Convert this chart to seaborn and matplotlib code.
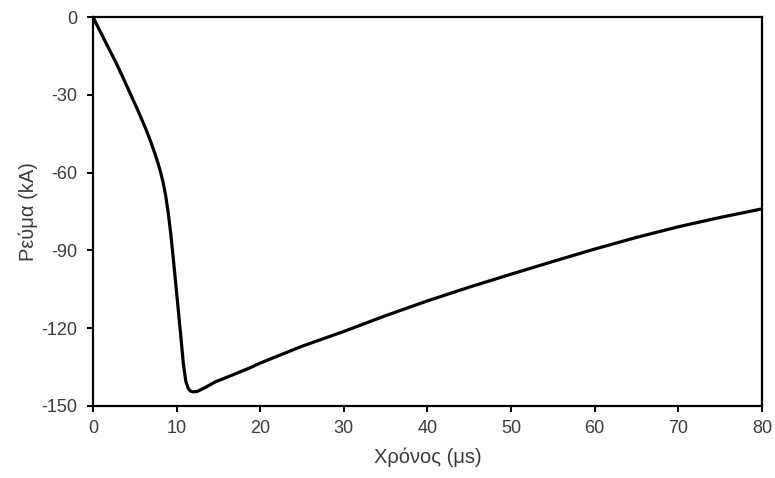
import matplotlib
matplotlib.use("Agg")
import matplotlib.pyplot as plt
import seaborn as sns
import pandas as pd

# Lightning current waveform: time in microseconds, current in kA
time_us = [0, 1.0, 2.0, 2.7, 3.6, 4.5, 5.4, 6.3, 6.9, 7.4, 7.8, 8.1, 8.4,
           8.7, 9.0, 9.3, 9.6, 9.9, 10.2, 10.5, 10.8, 11.1, 11.4, 11.7,
           12.0, 12.5, 13.5, 14.6, 16.0, 18.8, 20, 25, 30, 35, 40, 45, 50,
           55, 60, 65, 70, 75, 80]
current_ka = [0, -6.4, -12.8, -17.2, -23.4, -29.8, -36.2, -43, -48.0, -52.6,
              -56.6, -60.0, -64.0, -69.0, -75.5, -83.5, -93, -103, -113,
              -123, -133.5, -140.5, -143.4, -144.4, -144.6, -144.4, -142.8,
              -140.8, -139.0, -135.3, -133.5, -127, -121.3, -115.2, -109.5,
              -104.2, -99.2, -94.3, -89.5, -85.0, -80.9, -77.3, -74.0]

x_ticks = [0, 10, 20, 30, 40, 50, 60, 70, 80]
y_ticks = [0, -30, -60, -90, -120, -150]
x_label = "Χρόνος (μs)"
y_label = "Ρεύμα (kA)"

sns.set_theme(style="ticks")
plt.rcParams["font.family"] = ["Liberation Sans", "DejaVu Sans"]

text_color = "#3a3a3a"

df = pd.DataFrame({"t": time_us, "i": current_ka})

fig = plt.figure(figsize=(7.75, 4.78), dpi=100)
ax = fig.add_axes([0.12, 0.151, 0.863, 0.813])

sns.lineplot(data=df, x="t", y="i", ax=ax, color="black", linewidth=2.3,
             sort=False)

ax.set_xlim(0, 80)
ax.set_ylim(-150, 0)
ax.set_xticks(x_ticks)
ax.set_yticks(y_ticks)
ax.set_xticklabels([str(v) for v in x_ticks])
ax.set_yticklabels([str(v) for v in y_ticks])

for side in ["top", "right", "bottom", "left"]:
    ax.spines[side].set_visible(True)
    ax.spines[side].set_color("black")
    ax.spines[side].set_linewidth(1.6)

ax.tick_params(axis="both", direction="out", length=4, width=1.4,
               color="black", labelsize=13, labelcolor=text_color)
ax.tick_params(axis="x", pad=6.5)
ax.tick_params(axis="y", pad=7)

ax.set_xlabel(x_label, fontsize=14.5, color=text_color, labelpad=7)
ax.set_ylabel(y_label, fontsize=14.5, color=text_color, labelpad=3)

fig.savefig("out.png", dpi=100, facecolor="white")
